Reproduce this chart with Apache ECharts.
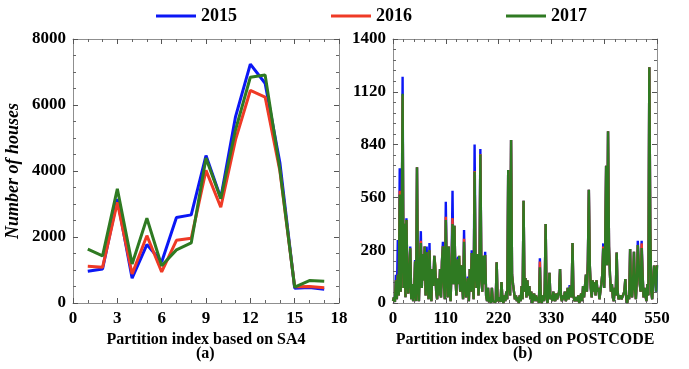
<!DOCTYPE html>
<html><head><meta charset="utf-8">
<script src="https://cdn.jsdelivr.net/npm/echarts/dist/echarts.min.js"></script>
<style>html,body{margin:0;padding:0;background:#fff}#c{width:689px;height:369px}</style>
</head><body><div id="c"></div>
<script>
const seriesNames = ['2015', '2016', '2017'];
const seriesColors = ['#0b17f5', '#ef3a26', '#2f7a22'];

// Panel (a): partitions based on SA4
const sa4Index = [1,2,3,4,5,6,7,8,9,10,11,12,13,14,15,16,17];
const sa4_2015 = [960,1030,3150,750,1770,1240,2590,2670,4470,3180,5650,7240,6660,4250,450,470,420];
const sa4_2016 = [1110,1080,3050,880,2040,940,1900,1960,4020,2900,4950,6440,6240,4000,490,500,460];
const sa4_2017 = [1630,1430,3460,1180,2570,1130,1610,1820,4390,3160,5250,6840,6910,4050,480,680,660];

// Panel (b): partitions based on POSTCODE
const postIndex = [
0,2,4,6,8,10,12,14,16,18,
20,22,24,26,28,30,32,34,36,38,
40,42,44,46,48,50,52,54,56,58,
60,62,64,66,68,70,72,74,76,78,
80,82,84,86,88,90,92,94,96,98,
100,102,104,106,108,110,112,114,116,118,
120,122,124,126,128,130,132,134,136,138,
140,142,144,146,148,150,152,154,156,158,
160,162,164,166,168,170,172,174,176,178,
180,182,184,186,188,190,192,194,196,198,
200,202,204,206,208,210,212,214,216,218,
220,222,224,226,228,230,232,234,236,238,
240,242,244,246,248,250,252,254,256,258,
260,262,264,266,268,270,272,274,276,278,
280,282,284,286,288,290,292,294,296,298,
300,302,304,306,308,310,312,314,316,318,
320,322,324,326,328,330,332,334,336,338,
340,342,344,346,348,350,352,354,356,358,
360,362,364,366,368,370,372,374,376,378,
380,382,384,386,388,390,392,394,396,398,
400,402,404,406,408,410,412,414,416,418,
420,422,424,426,428,430,432,434,436,438,
440,442,444,446,448,450,452,454,456,458,
460,462,464,466,468,470,472,474,476,478,
480,482,484,486,488,490,492,494,496,498,
500,502,504,506,508,510,512,514,516,518,
520,522,524,526,528,530,532,534,536,538,
540,542,544,546,548,550];

const post2015 = [
10,30,5,150,20,334,40,714,60,300,
1200,80,420,30,449,120,50,180,300,20,
100,10,60,228,10,720,100,10,200,381,
80,260,120,300,40,300,150,20,318,60,
10,180,90,250,253,60,20,130,40,180,
30,220,325,100,20,537,180,30,300,80,
10,200,595,100,410,150,40,230,245,250,
60,200,100,20,387,120,30,80,140,10,
180,60,280,150,20,841,200,80,260,40,
120,816,200,60,250,100,272,40,10,80,
5,30,0,80,10,0,20,5,216,10,
0,30,5,111,20,0,40,10,60,20,
705,120,40,864,150,100,60,20,40,10,
30,0,40,10,90,20,542,60,132,30,
120,40,90,20,60,0,30,50,10,40,
10,30,0,237,20,0,40,10,60,419,
20,0,60,160,20,40,10,60,30,10,
50,20,10,60,180,30,10,40,20,60,
10,30,80,20,95,90,30,318,40,10,
0,30,10,40,0,20,50,10,90,30,
20,150,60,232,601,200,80,30,120,60,
110,40,120,60,80,20,10,100,150,316,
80,300,728,200,911,300,150,60,100,30,
10,80,40,267,60,20,10,40,20,10,
30,60,127,20,0,40,20,286,60,30,
100,272,80,20,120,330,200,100,60,330,
150,30,80,40,10,100,40,1250,400,60,
20,10,198,150,60,200];

const post2016 = [
10,30,5,120,20,150,40,595,60,300,
1100,80,420,30,440,120,50,180,290,20,
100,10,60,220,10,720,100,10,200,330,
80,260,120,300,40,270,150,20,280,60,
10,180,90,250,200,60,20,130,40,180,
30,220,300,100,20,457,180,30,300,80,
10,200,450,100,410,150,40,230,100,250,
60,200,100,20,340,120,30,80,130,10,
180,60,265,150,20,700,200,80,260,40,
120,790,200,60,250,100,254,40,10,80,
5,30,0,80,10,0,20,5,216,10,
0,30,5,111,20,0,40,10,60,20,
705,120,40,864,150,100,60,20,40,10,
30,0,40,10,90,20,542,60,132,30,
120,40,90,20,60,0,30,50,10,40,
10,30,0,220,20,0,40,10,60,419,
20,0,60,160,20,40,10,60,30,10,
50,20,10,60,180,30,10,40,20,60,
10,30,80,20,60,90,30,318,40,10,
0,30,10,40,0,20,50,10,90,30,
20,150,60,226,601,200,80,30,120,60,
110,40,120,60,80,20,10,100,150,300,
80,300,728,200,911,300,150,60,100,30,
10,80,40,267,60,20,10,40,20,10,
30,60,127,20,0,40,20,286,60,30,
100,272,80,20,120,307,200,100,60,316,
150,30,80,40,10,100,40,1250,400,60,
20,10,198,150,160,200];

const post2017 = [
10,30,5,120,20,150,40,575,60,300,
1110,80,420,30,440,120,50,180,290,20,
100,10,60,220,10,720,100,10,200,318,
80,260,120,300,40,270,150,20,280,60,
10,180,90,250,200,60,20,130,40,180,
30,220,300,100,20,440,180,30,300,80,
10,200,419,100,410,150,40,230,100,250,
60,200,100,20,325,120,30,80,130,10,
180,60,265,150,20,696,200,80,260,40,
120,788,200,60,250,100,254,40,10,80,
5,30,0,80,10,0,20,5,216,10,
0,30,5,111,20,0,40,10,60,20,
705,120,40,864,150,100,60,20,40,10,
30,0,40,10,90,20,542,60,132,30,
120,40,90,20,60,0,30,50,10,40,
10,30,0,190,20,0,40,10,60,419,
20,0,60,160,20,40,10,60,30,10,
50,20,10,60,180,30,10,40,20,60,
10,30,80,20,60,90,30,318,40,10,
0,30,10,40,0,20,50,10,90,30,
20,150,60,220,601,200,80,30,120,60,
110,40,120,60,80,20,10,100,150,290,
80,300,728,200,911,300,150,60,100,30,
10,80,40,267,60,20,10,40,20,10,
30,60,127,20,0,40,20,286,60,30,
100,272,80,20,120,307,200,100,60,291,
150,30,80,40,10,100,40,1250,400,60,
20,10,198,150,60,200];

const sa4Ticks = {min: 0, max: 18, interval: 3};
const sa4YTicks = {min: 0, max: 8000, interval: 2000};
const postTicks = {min: 0, max: 550, interval: 110};
const postYTicks = {min: 0, max: 1400, interval: 280};

const FONT = '"Liberation Serif", "DejaVu Serif", serif';
const frameColor = '#8f8f8f';

function pairs(xs, ys) { return xs.map((x, i) => [x, ys[i]]); }

function axis(opts, grid, position, showLabel, minorSplit, extra) {
  return Object.assign({
    type: 'value', gridIndex: grid, position: position,
    min: opts.min, max: opts.max, interval: opts.interval,
    axisLine: {show: true, onZero: false, lineStyle: {color: frameColor, width: 1}},
    axisTick: {show: true, inside: true, length: 5, lineStyle: {color: '#555', width: 1}},
    minorTick: {show: true, splitNumber: minorSplit, length: 3, lineStyle: {color: '#666', width: 1}},
    splitLine: {show: false},
    axisLabel: {show: showLabel, color: '#000', fontFamily: FONT, fontWeight: 'bold', fontSize: 17, margin: 7,
      formatter: function (v) { return String(v); }}
  }, extra || {});
}

const chart = echarts.init(document.getElementById('c'), null, {renderer: 'canvas'});
const sa4Data = [sa4_2015, sa4_2016, sa4_2017];
const postData = [post2015, post2016, post2017];

const series = [];
seriesNames.forEach((n, i) => {
  series.push({
    name: n, type: 'line', xAxisIndex: 0, yAxisIndex: 0,
    data: pairs(sa4Index, sa4Data[i]), symbol: 'none',
    lineStyle: {color: seriesColors[i], width: 3}, itemStyle: {color: seriesColors[i]}
  });
});
seriesNames.forEach((n, i) => {
  series.push({
    name: n, type: 'line', xAxisIndex: 2, yAxisIndex: 2,
    data: pairs(postIndex, postData[i]), symbol: 'none',
    lineStyle: {color: seriesColors[i], width: 2.4}, itemStyle: {color: seriesColors[i]}
  });
});

const nameStyle = {color: '#000', fontFamily: FONT, fontWeight: 'bold', fontSize: 16};

chart.setOption({
  animation: false,
  backgroundColor: '#fff',
  legend: {
    left: 151, top: 2, itemWidth: 40, itemHeight: 3, itemGap: 94, icon: 'rect',
    data: seriesNames,
    textStyle: {color: '#000', fontFamily: FONT, fontWeight: 'bold', fontSize: 18}
  },
  grid: [
    {left: 73, top: 39, width: 266, height: 264},
    {left: 393, top: 39, width: 264, height: 264}
  ],
  xAxis: [
    axis(sa4Ticks, 0, 'bottom', true, 3, {name: 'Partition index based on SA4', nameLocation: 'middle', nameGap: 27, nameTextStyle: nameStyle}),
    axis(sa4Ticks, 0, 'top', false, 3),
    axis(postTicks, 1, 'bottom', true, 5, {name: 'Partition index based on POSTCODE', nameLocation: 'middle', nameGap: 27, nameTextStyle: nameStyle}),
    axis(postTicks, 1, 'top', false, 5)
  ],
  yAxis: [
    axis(sa4YTicks, 0, 'left', true, 4, {name: 'Number of houses', nameLocation: 'middle', nameGap: 51,
      nameTextStyle: {color: '#000', fontFamily: FONT, fontWeight: 'bold', fontStyle: 'italic', fontSize: 18}}),
    axis(sa4YTicks, 0, 'right', false, 4),
    axis(postYTicks, 1, 'left', true, 5),
    axis(postYTicks, 1, 'right', false, 5)
  ],
  graphic: [
    {type: 'text', left: 196, top: 346, style: {text: '(a)', fill: '#000', font: 'bold 16px ' + FONT}},
    {type: 'text', left: 513, top: 346, style: {text: '(b)', fill: '#000', font: 'bold 16px ' + FONT}}
  ],
  series: series
});
</script>
</body></html>
